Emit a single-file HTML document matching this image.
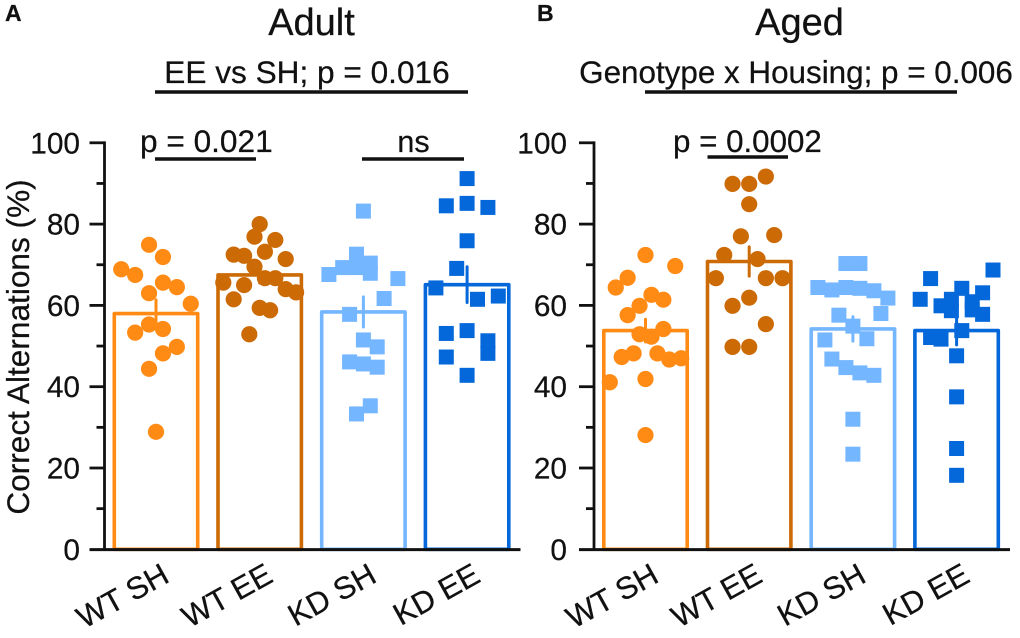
<!DOCTYPE html>
<html lang="en">
<head>
<meta charset="utf-8">
<title>Correct Alternations: Adult and Aged</title>
<style>
html,body{margin:0;padding:0;background:#fff;}
svg{display:block;font-family:"Liberation Sans",Arial,sans-serif;fill:#111;}
text{stroke:#111;stroke-width:.25px;}
</style>
</head>
<body>
<svg id="chart" width="1020" height="638" viewBox="0 0 1020 638" xmlns="http://www.w3.org/2000/svg">
  <rect x="0" y="0" width="1020" height="638" fill="#fff"/>
  <text x="5" y="21" font-size="23" font-weight="700">A</text>
  <text x="537" y="21" font-size="23" font-weight="700">B</text>
  <text x="311.5" y="35" font-size="38" text-anchor="middle">Adult</text>
  <text x="799.5" y="35" font-size="38" text-anchor="middle">Aged</text>
  <text x="307" y="83" font-size="31.6" text-anchor="middle">EE vs SH; p = 0.016</text>
  <text x="796" y="83" font-size="31.4" text-anchor="middle">Genotype x Housing; p = 0.006</text>
  <line x1="155" x2="468" y1="92" y2="92" stroke="#111" stroke-width="3.5"/>
  <line x1="645" x2="957" y1="92" y2="92" stroke="#111" stroke-width="3.5"/>
  <text x="140" y="152" font-size="31.6">p = 0.021</text>
  <line x1="155" x2="256" y1="159" y2="159" stroke="#111" stroke-width="3.5"/>
  <text x="413.5" y="152" font-size="30.5" text-anchor="middle">ns</text>
  <line x1="362" x2="464" y1="159" y2="159" stroke="#111" stroke-width="3.5"/>
  <text x="673" y="152" font-size="31.3">p = 0.0002</text>
  <line x1="707.5" x2="788" y1="157" y2="157" stroke="#111" stroke-width="3.5"/>
  <text transform="translate(29,347) rotate(-90)" font-size="31.6" text-anchor="middle">Correct Alternations (%)</text>
  <g id="plot"></g>
</svg>
<script>
// Category labels and axis ticks
const categories = ['WT SH', 'WT EE', 'KD SH', 'KD EE'];
const majorTicks = [0, 20, 40, 60, 80, 100];
const minorTicks = [10, 30, 50, 70, 90];

// Bar means and standard errors
const adultMeans = [58.0, 67.5, 58.4, 65.1];
const adultErrors = [3.4, 2.0, 3.7, 4.4];
const agedMeans = [53.8, 70.8, 54.2, 53.8];
const agedErrors = [2.8, 3.6, 3.0, 3.5];

// Individual animals (percent correct), with their swarm slot beside the bar centre
const adultWtShValues = [74.9, 71.9, 68.9, 67.5, 65.6, 64.5, 63.0, 60.4, 55.3, 53.3, 54.2, 49.8, 48.2, 44.4, 28.9];
const adultWtShSlots = [-1, 1, -5, -3, 1, 3, -1, 5, -1, -3, 1, 3, 1, -1, 0];
const adultWtEeValues = [80.0, 76.9, 76.1, 73.2, 72.5, 72.2, 71.4, 69.5, 66.7, 66.7, 65.6, 65.0, 64.0, 63.2, 61.5, 59.4, 58.8, 52.9];
const adultWtEeSlots = [0, -1, 3, 1, -5, -3, 5, -1, 1, 3, -7, -3, 5, 7, -5, 0, 2, -2];
const adultKdShValues = [83.2, 72.6, 67.6, 69.3, 69.3, 70.4, 67.9, 66.6, 61.7, 57.8, 51.5, 49.8, 46.1, 45.6, 44.8, 35.3, 33.3];
const adultKdShSlots = [0, -1, -5, -3, -1, 1, 1, 5, 3, -2, 0, 2, -2, 0, 2, 1, -1];
const adultKdEeValues = [91.2, 84.5, 85.1, 84.1, 75.9, 69.1, 64.3, 61.5, 62.3, 53.1, 53.8, 51.3, 48.2, 47.3, 42.8];
const adultKdEeSlots = [0, -2, 0, 2, 0, -1, -3, 1, 3, -2, 0, 2, 2, -2, 0];

const agedWtShValues = [72.4, 69.7, 66.8, 64.4, 62.6, 61.4, 59.9, 57.6, 52.9, 52.3, 54.2, 48.2, 47.3, 48.2, 46.7, 47.0, 41.1, 41.9, 28.1];
const agedWtShSlots = [0, 5, -3, -5, 1, 3, -1, -3, -1, 1, 3, -2, -4, 2, 4, 6, -6, 0, 0];
const agedWtEeValues = [91.7, 89.9, 89.9, 84.9, 77.0, 77.3, 72.4, 71.4, 66.7, 66.7, 66.7, 61.9, 59.9, 55.4, 49.8, 49.8];
const agedWtEeSlots = [2, -2, 0, 0, -1, 3, -3, 1, -4, 2, 4, 0, -2, 2, -2, 0];
const agedKdShValues = [70.3, 70.3, 64.4, 63.8, 64.4, 64.2, 63.6, 61.8, 57.6, 58.0, 54.9, 51.5, 51.8, 46.8, 44.7, 43.4, 42.8, 32.0, 23.4];
const agedKdShSlots = [-1, 1, -5, -3, -1, 1, 3, 5, -2, 4, 0, -4, 2, -3, -1, 1, 3, 0, 0];
const agedKdEeValues = [68.7, 66.6, 64.2, 63.1, 61.5, 61.5, 60.9, 59.9, 58.7, 58.9, 57.8, 53.8, 52.1, 51.7, 47.6, 37.5, 24.8, 18.2];
const agedKdEeSlots = [3.5, -2.5, 0.5, 2.5, -3.5, -0.5, 1.5, -1.5, -0.5, 1.5, 2.5, 0.5, -2.5, -1.5, 0, 0, 0, 0];

const NS = 'http://www.w3.org/2000/svg';
const plot = document.getElementById('plot');
const colors = ['#FF8A14', '#CC6A05', '#74B6FF', '#0468DA'];
const Y0 = 549.3, PX_PER_UNIT = 4.065;
const BAND = 103.7, BAR_HALF = 41.7;

function yScale(v) { return Y0 - v * PX_PER_UNIT; }
function xBand(firstCentre, i) { return firstCentre + i * BAND; }

function node(tag, attrs, parent) {
  const el = document.createElementNS(NS, tag);
  for (const k in attrs) el.setAttribute(k, attrs[k]);
  (parent || plot).appendChild(el);
  return el;
}

function drawBars(firstCentre, means, prefix) {
  means.forEach(function (m, i) {
    const c = xBand(firstCentre, i);
    const bar = node('rect', { x: c - BAR_HALF, y: yScale(m), width: BAR_HALF * 2, height: Y0 - yScale(m), fill: 'none', stroke: colors[i], 'stroke-width': 3.6, 'stroke-linejoin': 'round' });
    
    
  });
}

function drawPoints(firstCentre, i, values, slots, step, prefix) {
  const c = xBand(firstCentre, i);
  const round = i < 2;
  const group = node('g', {});
  
  
  values.forEach(function (v, k) {
    const x = c + slots[k] * step, y = yScale(v);
    if (round) {
      const dot = node('circle', { cx: x, cy: y, r: 8.1, fill: colors[i] }, group);
      
      
    } else {
      const sq = node('rect', { x: x - 7.5, y: y - 7.5, width: 15, height: 15, fill: colors[i] }, group);
      
      
    }
  });
}

function drawErrors(firstCentre, means, errors, prefix) {
  means.forEach(function (m, i) {
    const c = xBand(firstCentre, i);
    const err = node('line', { x1: c, x2: c, y1: yScale(m + errors[i]), y2: yScale(m - errors[i]), stroke: colors[i], 'stroke-width': 3, 'stroke-linecap': 'round' });
    
    
  });
}

function drawAxes(axisX, xEnd, labelRight, firstCentre, prefix) {
  const axis = node('g', { stroke: '#111', 'stroke-width': 2.8, fill: 'none' });
  
  
  node('line', { x1: axisX, x2: axisX, y1: yScale(100) - 1.4, y2: Y0 }, axis);
  node('line', { x1: axisX - 15, x2: xEnd, y1: Y0 + 0.3, y2: Y0 + 0.3, 'stroke-width': 3 }, axis);
  majorTicks.forEach(function (t) {
    if (t > 0) node('line', { x1: axisX - 15, x2: axisX, y1: yScale(t), y2: yScale(t) }, axis);
    const label = node('text', { x: labelRight, y: yScale(t) + 10.5, 'font-size': 29.8, 'text-anchor': 'end', fill: '#111' });
    label.textContent = String(t);
    
    
  });
  minorTicks.forEach(function (t) {
    node('line', { x1: axisX - 8, x2: axisX, y1: yScale(t), y2: yScale(t) }, axis);
  });
  categories.forEach(function (name, i) {
    const ex = xBand(firstCentre, i) + 15;
    const label = node('text', { transform: 'translate(' + ex + ',581) rotate(-29)', 'font-size': 31, 'text-anchor': 'end', fill: '#111' });
    label.textContent = name;
    
    
  });
}

const A0 = 156, B0 = 645.5;

drawBars(A0, adultMeans, 'adult');
drawPoints(A0, 0, adultWtShValues, adultWtShSlots, 6.95, 'adult');
drawPoints(A0, 1, adultWtEeValues, adultWtEeSlots, 5.2, 'adult');
drawPoints(A0, 2, adultKdShValues, adultKdShSlots, 6.9, 'adult');
drawPoints(A0, 3, adultKdEeValues, adultKdEeSlots, 10.4, 'adult');
drawErrors(A0, adultMeans, adultErrors, 'adult');
drawAxes(104.5, 520.5, 80, A0, 'adult');

drawBars(B0, agedMeans, 'aged');
drawPoints(B0, 0, agedWtShValues, agedWtShSlots, 5.95, 'aged');
drawPoints(B0, 1, agedWtEeValues, agedWtEeSlots, 8.33, 'aged');
drawPoints(B0, 2, agedKdShValues, agedKdShSlots, 7, 'aged');
drawPoints(B0, 3, agedKdEeValues, agedKdEeSlots, 10.4, 'aged');
drawErrors(B0, agedMeans, agedErrors, 'aged');
drawAxes(594, 1010, 567, B0, 'aged');
</script>
</body>
</html>
